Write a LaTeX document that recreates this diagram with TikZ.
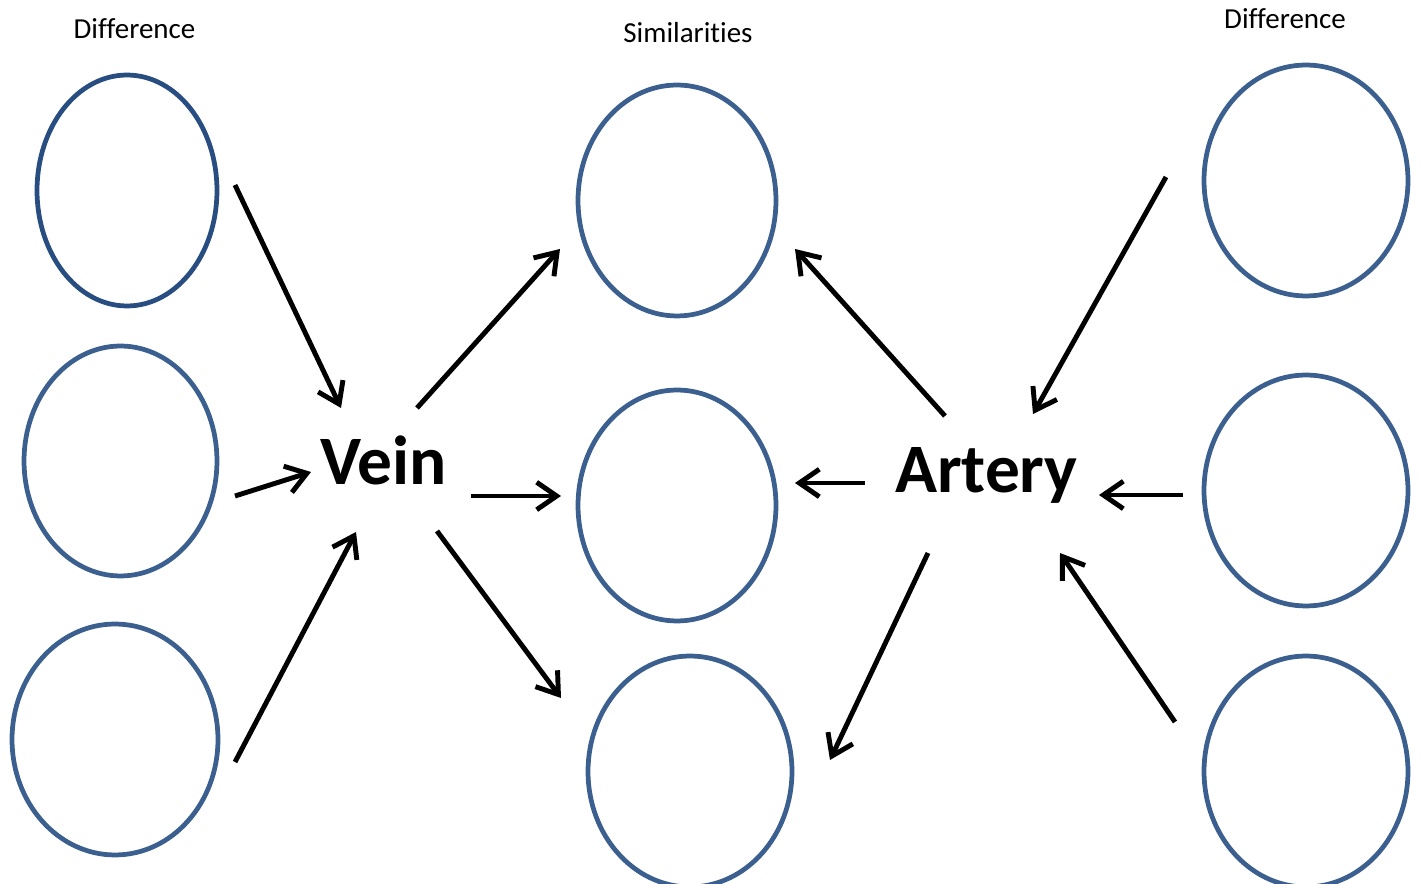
\documentclass[tikz,border=0pt]{standalone}
\usepackage{fontspec}
\setmainfont{Carlito}[Ligatures=NoCommon]
\usetikzlibrary{shapes.geometric,arrows.meta}
\definecolor{ringblue}{HTML}{3B5F8E}
\definecolor{ringdark}{HTML}{284D80}
\tikzset{
  ring/.style={draw=ringblue, line width=2.7pt, ellipse, inner sep=0pt, minimum height=4.62cm},
  head/.style={font=\fontsize{16.5}{20}\selectfont, anchor=base, inner sep=0pt},
  term/.style={font=\fontsize{39.5}{47}\selectfont\bfseries, anchor=base, inner sep=0pt},
  link/.style={draw, line width=2.8pt, ->},
}
\begin{document}
\begin{tikzpicture}[x=0.02cm,y=-0.02cm,>={Straight Barb[length=0.4cm,width=0.55cm]}]
\useasboundingbox (0,0) rectangle (1421,884);
\clip (0,0) rectangle (1421,884);

\node[head] (dl) at (134.5,39) {Difference};
\node[head] (sim) at (688,43) {Similarities};
\node[head] (dr) at (1285,29) {Difference};

\node[ring, draw=ringdark, minimum width=3.6cm] (l1) at (127,190.5) {};
\node[ring, minimum width=3.86cm, minimum height=4.6cm] (l2) at (120.5,461) {};
\node[ring, minimum width=4.12cm] (l3) at (115,739.5) {};
\node[ring, minimum width=3.96cm] (m1) at (677,200.5) {};
\node[ring, minimum width=3.96cm] (m2) at (677,505.5) {};
\node[ring, minimum width=4.08cm] (m3) at (690,771.5) {};
\node[ring, minimum width=4.08cm] (r1) at (1306,180.5) {};
\node[ring, minimum width=4.08cm] (r2) at (1306,490.5) {};
\node[ring, minimum width=4.08cm] (r3) at (1306,771.5) {};

\node[term] (vein) at (383.5,485) {Vein};
\node[term] (artery) at (986.5,493) {Artery};

\coordinate (l1o) at (235,185);  \coordinate (vn1) at (341,408);
\coordinate (l2o) at (235,496);  \coordinate (vn2) at (311,472);
\coordinate (l3o) at (235,762);  \coordinate (vn3) at (356,532);
\coordinate (vo1) at (417,408);  \coordinate (m1a) at (560,249);
\coordinate (vo2) at (471,496);  \coordinate (m2a) at (561,496);
\coordinate (vo3) at (437,531);  \coordinate (m3a) at (561,698);
\coordinate (ao1) at (945,416);  \coordinate (m1b) at (795,249);
\coordinate (ao2) at (865,483);  \coordinate (m2b) at (795,483);
\coordinate (ao3) at (928,553);  \coordinate (m3b) at (830,760);
\coordinate (r1o) at (1166,177); \coordinate (ar1) at (1033,414);
\coordinate (r2o) at (1183,495); \coordinate (ar2) at (1099,495);
\coordinate (r3o) at (1175,722); \coordinate (ar3) at (1060,553);

\path[link] (l1o) -- (vn1);
\path[link] (l2o) -- (vn2);
\path[link] (l3o) -- (vn3);
\path[link] (vo1) -- (m1a);
\path[link] (vo2) -- (m2a);
\path[link] (vo3) -- (m3a);
\path[link] (ao1) -- (m1b);
\path[link] (ao2) -- (m2b);
\path[link] (ao3) -- (m3b);
\path[link] (r1o) -- (ar1);
\path[link] (r2o) -- (ar2);
\path[link] (r3o) -- (ar3);
\end{tikzpicture}
\end{document}
